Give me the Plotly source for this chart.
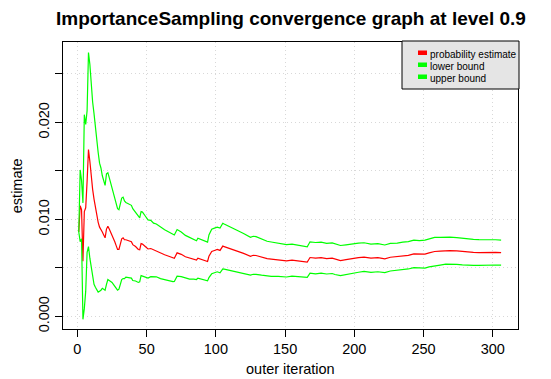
import numpy as np
import plotly.graph_objects as go

# ---- data ----
iterations = [1, 2, 3, 4, 5, 6, 7, 8, 9, 10, 11, 12, 13, 14, 15, 16, 17, 18, 19, 20,
              21, 22, 23, 24, 25, 26, 27, 28, 29, 30, 31, 32, 33, 34, 35, 37, 39, 40, 42, 44,
              45, 46, 47, 49, 51, 53, 55, 57, 60, 63, 66, 69, 70, 72, 75, 78, 81, 84, 86, 87,
              90, 94, 95, 97, 99, 101, 103, 105, 106, 110, 115, 120, 125, 127, 129, 133, 137, 140, 145, 151,
              155, 160, 163, 166, 168, 172, 176, 180, 184, 186, 190, 194, 199, 203, 207, 212, 217, 222, 226, 231,
              235, 239, 243, 247, 251, 254, 258, 262, 266, 269, 274, 278, 282, 286, 290, 294, 298, 302, 306]

# probability estimate (x 1e-3)
estimate_milli = [8.7, 11.4, 11.0, 5.7, 10.8, 11.2, 13.9, 17.2, 16.0, 14.3, 13.1, 12.1, 11.2, 10.4, 9.7, 9.2, 9.0, 8.7, 8.4, 8.1,
                  9.0, 9.3, 9.0, 8.7, 8.3, 8.0, 7.7, 7.3, 6.9, 6.9, 7.5, 8.0, 8.1, 7.9, 7.9, 7.8, 7.7, 7.4, 7.2, 6.9,
                  6.86, 7.5, 7.45, 7.2, 6.95, 7.0, 6.86, 6.8, 6.55, 6.35, 6.2, 6.0, 6.0, 6.55, 6.4, 6.15, 6.0, 5.9, 5.8, 6.0,
                  5.85, 5.66, 6.2, 6.69, 6.8, 6.9, 6.8, 7.25, 7.2, 7.0, 6.8, 6.5, 6.2, 6.3, 6.28, 6.1, 5.95, 5.9, 5.85, 5.73,
                  5.8, 5.7, 5.68, 5.6, 6.07, 6.0, 6.05, 5.95, 6.0, 5.9, 5.76, 5.85, 6.0, 6.05, 6.11, 6.0, 6.05, 5.94, 6.1, 6.15,
                  6.25, 6.3, 6.45, 6.4, 6.42, 6.55, 6.69, 6.72, 6.8, 6.79, 6.75, 6.68, 6.62, 6.6, 6.58, 6.6, 6.58, 6.6, 6.58]

# half-width of the confidence interval (x 1e-3)
halfwidth_milli = [0.0, 3.7, 3.0, 6.0, 10.0, 8.6, 7.3, 10.0, 10.0, 9.4, 9.0, 8.8, 8.2, 7.6, 7.2, 6.6, 6.3, 5.8, 5.6, 5.4,
                   5.7, 5.5, 5.3, 5.1, 4.8, 4.7, 4.6, 4.4, 4.2, 4.1, 4.1, 4.2, 4.2, 4.0, 3.85, 3.8, 3.75, 3.7, 3.55, 3.4,
                   3.3, 3.3, 3.3, 3.15, 3.0, 2.9, 2.75, 2.72, 2.65, 2.58, 2.5, 2.42, 2.4, 2.4, 2.3, 2.2, 2.15, 2.05, 2.0, 2.05,
                   2.02, 2.0, 2.2, 2.3, 2.3, 2.3, 2.3, 2.35, 2.32, 2.25, 2.15, 2.05, 1.95, 1.96, 1.94, 1.85, 1.8, 1.77, 1.72, 1.67,
                   1.65, 1.62, 1.6, 1.58, 1.62, 1.62, 1.6, 1.58, 1.58, 1.58, 1.55, 1.53, 1.5, 1.5, 1.48, 1.46, 1.45, 1.42, 1.42, 1.4,
                   1.41, 1.41, 1.42, 1.42, 1.44, 1.44, 1.46, 1.43, 1.41, 1.39, 1.38, 1.37, 1.36, 1.34, 1.33, 1.32, 1.31, 1.3, 1.29]

x_ticks = [0, 50, 100, 150, 200, 250, 300]
y_ticks = [0.000, 0.005, 0.010, 0.015, 0.020, 0.025]
y_tick_labels = ["0.000", "", "0.010", "", "0.020", ""]

series_names = ["probability estimate", "lower bound", "upper bound"]
series_colors = ["#FF0000", "#00FF00", "#00FF00"]

title_text = "ImportanceSampling convergence graph at level 0.9"
x_title = "outer iteration"
y_title = "estimate"

# ---- derived series ----
est = np.array(estimate_milli) * 1e-3
hw = np.array(halfwidth_milli) * 1e-3
lower = est - hw
upper = est + hw
series_values = [est, lower, upper]

# ---- figure ----
W, H = 551, 379
ML, MR, MT, MB = 63, 33, 42, 50
PW, PH = W - ML - MR, H - MT - MB

def px_x(px):
    return (px - ML) / PW

def px_y(py):
    return (H - MB - py) / PH

FONT = "Liberation Sans, Arial, Helvetica, sans-serif"

fig = go.Figure()
for name, vals, col in zip(series_names, series_values, series_colors):
    fig.add_trace(go.Scatter(x=iterations, y=vals, mode="lines", name=name,
                             line=dict(color=col, width=1.2), showlegend=False,
                             hoverinfo="skip"))

fig.update_layout(
    width=W, height=H,
    margin=dict(l=ML, r=MR, t=MT, b=MB, pad=0, autoexpand=False),
    paper_bgcolor="white", plot_bgcolor="white",
    font=dict(family=FONT, size=14, color="black"),
    showlegend=False,
)

fig.update_xaxes(
    range=[-10.4, 318.2], tickvals=x_ticks, ticktext=[str(v) for v in x_ticks],
    ticks="outside", ticklen=7, tickcolor="black", tickwidth=1,
    automargin=False,
    showline=True, linecolor="black", linewidth=1, mirror=True,
    showgrid=True, gridcolor="#D8D8D8", griddash="1px,3px", gridwidth=1,
    zeroline=False, tickfont=dict(size=14.5),
)
fig.update_yaxes(
    range=[-0.0013, 0.02829], tickvals=y_ticks, ticktext=y_tick_labels,
    tickangle=-90, automargin=False,
    ticks="outside", ticklen=7, tickcolor="black", tickwidth=1,
    showline=True, linecolor="black", linewidth=1, mirror=True,
    showgrid=True, gridcolor="#D8D8D8", griddash="1px,3px", gridwidth=1,
    zeroline=False, tickfont=dict(size=14.5),
)

# axis titles
fig.add_annotation(text=x_title, xref="paper", yref="paper",
                   x=0.5, y=px_y(369), xanchor="center", yanchor="middle",
                   showarrow=False, font=dict(size=14.5, family=FONT, color="black"))
fig.add_annotation(text=y_title, xref="paper", yref="paper", textangle=-90,
                   x=px_x(16.7), y=0.5, xanchor="center", yanchor="middle",
                   showarrow=False, font=dict(size=14.5, family=FONT, color="black"))

# title
fig.add_annotation(text="<b>" + title_text + "</b>", xref="paper", yref="paper",
                   x=0.5, y=px_y(18), xanchor="center", yanchor="middle",
                   showarrow=False, font=dict(size=19, family=FONT, color="black"))

# manual legend box (R style)
fig.add_shape(type="rect", xref="paper", yref="paper",
              x0=px_x(402), x1=px_x(519), y0=px_y(89), y1=px_y(41),
              fillcolor="#E5E5E5", line=dict(color="black", width=1), layer="above")
row_y = [54.5, 66.5, 78.5]
for name, col, ry in zip(series_names, series_colors, row_y):
    fig.add_shape(type="rect", xref="paper", yref="paper",
                  x0=px_x(418), x1=px_x(427), y0=px_y(ry + 0.5), y1=px_y(ry - 4),
                  fillcolor=col, line=dict(width=0), layer="above")
    fig.add_annotation(text=name, xref="paper", yref="paper",
                       x=px_x(428), y=px_y(ry), xanchor="left", yanchor="middle",
                       showarrow=False, font=dict(size=10, family=FONT, color="black"))

fig.write_html("out.html")
